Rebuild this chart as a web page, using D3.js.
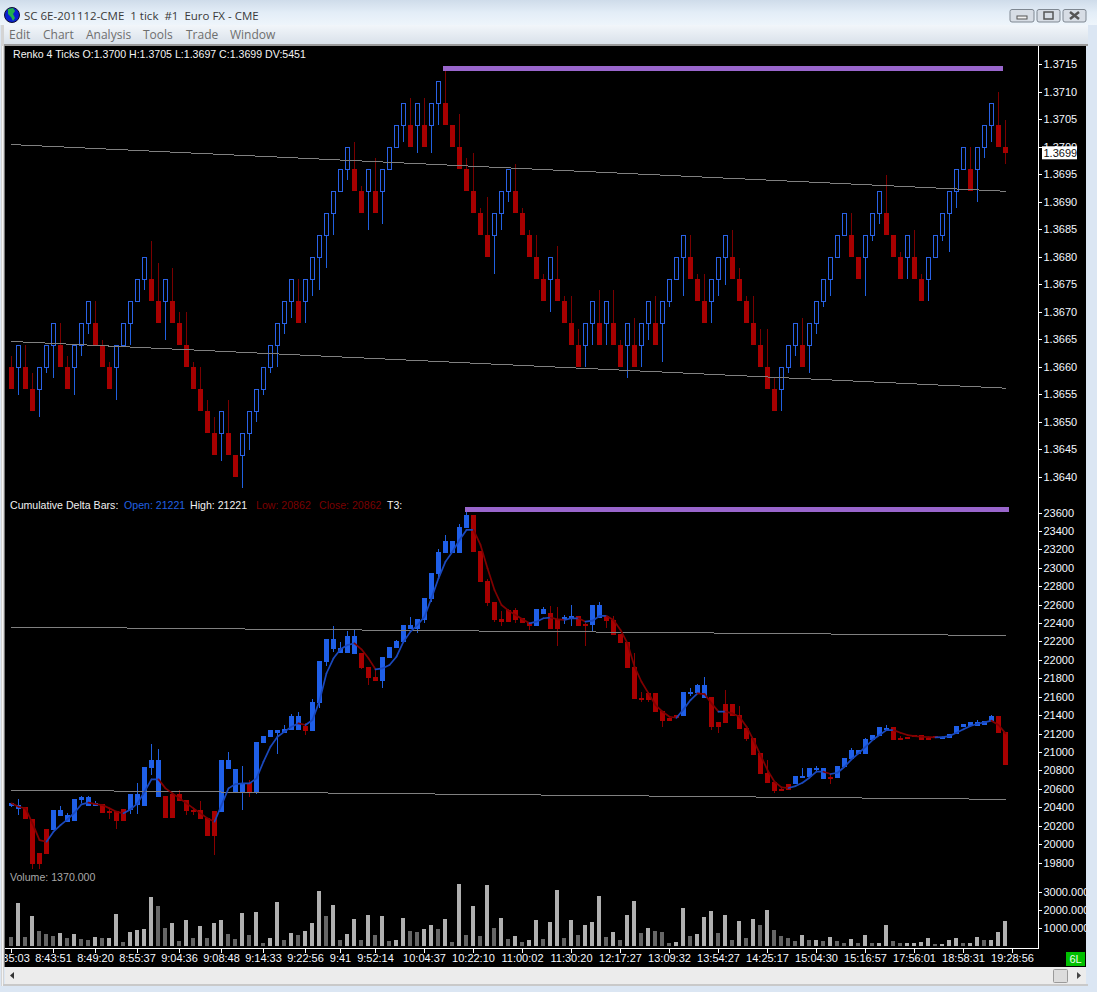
<!DOCTYPE html>
<html>
<head>
<meta charset="utf-8">
<title>SC 6E-201112-CME</title>
<script src="https://cdn.jsdelivr.net/npm/d3@7"></script>
<style>
html, body { margin: 0; padding: 0; background: #dbe6f3; overflow: hidden; }
svg { display: block; }
text { white-space: pre; }
.axis text { font-family: "Liberation Sans", Arial, sans-serif; font-size: 11px; fill: #f4f8ff; }
.axis line { stroke: #ffffff; shape-rendering: crispEdges; }
</style>
</head>
<body>
<div id="chart"></div>
<script>
// Renko bars, price panel
var renkoOpen = [
1.3660,1.3660,1.3660,1.3656,1.3656,1.3660,1.3664,1.3664,1.3660,1.3660,
1.3664,1.3668,1.3668,1.3664,1.3660,1.3660,1.3664,1.3668,1.3672,1.3676,
1.3676,1.3672,1.3672,1.3672,1.3668,1.3664,1.3660,1.3656,1.3652,1.3648,
1.3648,1.3648,1.3644,1.3644,1.3648,1.3652,1.3656,1.3660,1.3664,1.3668,
1.3672,1.3672,1.3672,1.3676,1.3680,1.3684,1.3688,1.3692,1.3696,1.3696,
1.3692,1.3692,1.3692,1.3692,1.3696,1.3700,1.3704,1.3704,1.3704,1.3704,
1.3704,1.3708,1.3708,1.3704,1.3700,1.3696,1.3692,1.3688,1.3684,1.3684,
1.3688,1.3692,1.3692,1.3688,1.3684,1.3680,1.3676,1.3676,1.3676,1.3672,
1.3668,1.3664,1.3664,1.3668,1.3668,1.3668,1.3668,1.3664,1.3664,1.3664,
1.3664,1.3668,1.3668,1.3668,1.3672,1.3676,1.3680,1.3680,1.3676,1.3672,
1.3672,1.3676,1.3680,1.3680,1.3676,1.3672,1.3668,1.3664,1.3660,1.3656,
1.3656,1.3660,1.3664,1.3664,1.3664,1.3668,1.3672,1.3676,1.3680,1.3684,
1.3684,1.3680,1.3680,1.3684,1.3688,1.3688,1.3684,1.3680,1.3680,1.3680,
1.3676,1.3676,1.3680,1.3684,1.3688,1.3692,1.3696,1.3696,1.3696,1.3700,
1.3704,1.3704,1.3700];
var renkoClose = [
1.3656,1.3664,1.3656,1.3652,1.3660,1.3664,1.3668,1.3660,1.3656,1.3664,
1.3668,1.3672,1.3664,1.3660,1.3656,1.3664,1.3668,1.3672,1.3676,1.3680,
1.3672,1.3668,1.3676,1.3668,1.3664,1.3660,1.3656,1.3652,1.3648,1.3644,
1.3652,1.3644,1.3640,1.3648,1.3652,1.3656,1.3660,1.3664,1.3668,1.3672,
1.3676,1.3668,1.3676,1.3680,1.3684,1.3688,1.3692,1.3696,1.3700,1.3692,
1.3688,1.3696,1.3688,1.3696,1.3700,1.3704,1.3708,1.3700,1.3708,1.3700,
1.3708,1.3712,1.3704,1.3700,1.3696,1.3692,1.3688,1.3684,1.3680,1.3688,
1.3692,1.3696,1.3688,1.3684,1.3680,1.3676,1.3672,1.3680,1.3672,1.3668,
1.3664,1.3660,1.3668,1.3672,1.3664,1.3672,1.3664,1.3660,1.3668,1.3660,
1.3668,1.3672,1.3664,1.3672,1.3676,1.3680,1.3684,1.3676,1.3672,1.3668,
1.3676,1.3680,1.3684,1.3676,1.3672,1.3668,1.3664,1.3660,1.3656,1.3652,
1.3660,1.3664,1.3668,1.3660,1.3668,1.3672,1.3676,1.3680,1.3684,1.3688,
1.3680,1.3676,1.3684,1.3688,1.3692,1.3684,1.3680,1.3676,1.3684,1.3676,
1.3672,1.3680,1.3684,1.3688,1.3692,1.3696,1.3700,1.3692,1.3700,1.3704,
1.3708,1.3700,1.3699];
var renkoHigh = [
1.3662,1.3664,1.3664,1.3659,1.3660,1.3664,1.3668,1.3668,1.3662,1.3664,
1.3668,1.3672,1.3672,1.3665,1.3661,1.3664,1.3668,1.3672,1.3676,1.3680,
1.3683,1.3679,1.3676,1.3678,1.3670,1.3670,1.3661,1.3660,1.3654,1.3651,
1.3652,1.3654,1.3644,1.3648,1.3652,1.3656,1.3660,1.3664,1.3668,1.3672,
1.3676,1.3676,1.3676,1.3680,1.3684,1.3688,1.3692,1.3696,1.3700,1.3701,
1.3693,1.3696,1.3698,1.3696,1.3700,1.3704,1.3708,1.3709,1.3708,1.3709,
1.3708,1.3712,1.3714,1.3704,1.3706,1.3698,1.3699,1.3689,1.3691,1.3688,
1.3692,1.3696,1.3697,1.3689,1.3685,1.3684,1.3677,1.3680,1.3682,1.3673,
1.3673,1.3667,1.3668,1.3672,1.3674,1.3672,1.3674,1.3665,1.3668,1.3669,
1.3668,1.3672,1.3673,1.3672,1.3676,1.3680,1.3684,1.3684,1.3677,1.3677,
1.3676,1.3680,1.3684,1.3685,1.3678,1.3673,1.3673,1.3667,1.3667,1.3658,
1.3660,1.3664,1.3668,1.3669,1.3668,1.3672,1.3676,1.3680,1.3684,1.3688,
1.3688,1.3680,1.3684,1.3688,1.3692,1.3695,1.3684,1.3681,1.3684,1.3685,
1.3677,1.3680,1.3684,1.3688,1.3692,1.3696,1.3700,1.3700,1.3700,1.3704,
1.3708,1.3710,1.3705];
var renkoLow = [
1.3656,1.3655,1.3656,1.3652,1.3651,1.3659,1.3658,1.3660,1.3656,1.3655,
1.3662,1.3666,1.3664,1.3660,1.3656,1.3654,1.3664,1.3664,1.3672,1.3674,
1.3672,1.3668,1.3665,1.3668,1.3664,1.3660,1.3656,1.3652,1.3648,1.3644,
1.3643,1.3644,1.3640,1.3638,1.3645,1.3650,1.3655,1.3659,1.3660,1.3666,
1.3669,1.3668,1.3668,1.3673,1.3674,1.3678,1.3684,1.3692,1.3694,1.3692,
1.3688,1.3685,1.3688,1.3686,1.3696,1.3700,1.3701,1.3700,1.3699,1.3700,
1.3699,1.3704,1.3704,1.3700,1.3696,1.3692,1.3688,1.3684,1.3680,1.3677,
1.3685,1.3690,1.3688,1.3684,1.3680,1.3676,1.3672,1.3670,1.3672,1.3668,
1.3664,1.3660,1.3660,1.3664,1.3664,1.3664,1.3664,1.3660,1.3658,1.3660,
1.3660,1.3665,1.3664,1.3661,1.3671,1.3676,1.3673,1.3676,1.3672,1.3668,
1.3668,1.3673,1.3675,1.3676,1.3672,1.3668,1.3664,1.3660,1.3656,1.3652,
1.3652,1.3659,1.3662,1.3660,1.3659,1.3666,1.3671,1.3673,1.3680,1.3684,
1.3680,1.3676,1.3673,1.3683,1.3686,1.3684,1.3680,1.3676,1.3676,1.3676,
1.3672,1.3672,1.3680,1.3683,1.3681,1.3689,1.3696,1.3692,1.3690,1.3698,
1.3701,1.3700,1.3697];

// Cumulative delta bars
var deltaOpen = [
20419,20382,20404,20274,19905,20165,20158,20310,20245,20259,
20480,20415,20419,20437,20368,20368,20386,20375,20426,20422,
20835,20516,20527,20549,20549,20480,20379,20375,20292,20368,
20357,20820,20571,20571,20668,20571,21106,21164,21208,21211,
21244,21244,21287,21236,21541,21986,22124,22080,22080,22069,
22080,21928,21820,21776,22026,22135,22200,22341,22341,22439,
22667,22938,23166,23166,23166,23437,23579,23188,22862,22634,
22449,22547,22547,22460,22406,22373,22504,22515,22449,22439,
22460,22482,22395,22384,22460,22482,22439,22287,22200,21928,
21595,21645,21645,21450,21374,21403,21399,21640,21642,21594,
21602,21330,21522,21522,21406,21265,21157,20990,20777,20679,
20599,20661,20657,20730,20733,20817,20711,20737,20722,20842,
20929,20983,20983,21135,21178,21258,21276,21157,21168,21189,
21186,21160,21178,21160,21160,21200,21276,21287,21290,21301,
21341,21395,21221];
var deltaHigh = [
20455,20491,20404,20274,19905,20165,20372,20415,20339,20491,
20525,20527,20476,20437,20382,20368,20386,20549,20668,20838,
21092,21037,20527,20549,20592,20480,20393,20469,20292,20368,
20918,21005,20820,20853,20701,21113,21179,21244,21244,21298,
21417,21439,21323,21577,21993,22232,22373,22200,22323,22337,
22080,21928,21896,22037,22145,22222,22384,22471,22449,22677,
22949,23206,23361,23296,23481,23618,23579,23188,22884,22634,
22536,22558,22569,22460,22420,22558,22576,22591,22583,22489,
22601,22482,22410,22601,22630,22482,22482,22287,22200,22077,
21657,21660,21645,21450,21374,21403,21656,21699,21743,21819,
21602,21330,21678,21522,21504,21265,21157,20990,20918,20679,
20625,20661,20744,20831,20831,20849,20831,20755,20849,20939,
21044,21026,21157,21186,21276,21298,21276,21178,21168,21189,
21186,21160,21178,21173,21204,21287,21309,21330,21352,21345,
21406,21395,21221];
var deltaLow = [
20410,20324,20274,19738,19738,19901,20158,20310,20245,20259,
20447,20415,20419,20343,20281,20169,20256,20332,20332,20422,
20752,20516,20288,20288,20476,20321,20321,20277,20093,19887,
20357,20820,20571,20375,20520,20550,21106,21164,20983,21211,
21244,21244,21189,21236,21480,21943,22088,22080,22080,22069,
21903,21733,21776,21704,22026,22135,22185,22341,22294,22402,
22634,22891,23166,23166,23166,23437,23177,22851,22591,22417,
22373,22417,22406,22406,22330,22373,22504,22341,22160,22395,
22373,22373,22160,22308,22460,22352,22276,22189,21917,21581,
21548,21551,21443,21280,21345,21370,21399,21616,21642,21594,
21243,21211,21319,21395,21254,21124,20972,20766,20668,20559,
20581,20592,20657,20730,20733,20798,20711,20657,20722,20842,
20929,20983,20983,21135,21178,21233,21135,21142,21153,21164,
21135,21135,21153,21160,21160,21200,21276,21287,21290,21301,
21341,21211,20862];
var deltaClose = [
20448,20426,20274,19789,19789,19901,20372,20375,20317,20491,
20513,20513,20448,20343,20350,20256,20256,20549,20549,20838,
20918,20918,20288,20288,20476,20361,20357,20277,20093,20093,
20918,20918,20820,20668,20571,21113,21179,21244,21244,21255,
21396,21396,21233,21548,21993,22232,22232,22135,22265,22265,
21917,21809,21776,22037,22145,22211,22384,22384,22449,22677,
22949,23177,23296,23296,23448,23579,23177,22851,22623,22439,
22417,22417,22442,22406,22373,22558,22558,22341,22341,22468,
22482,22373,22373,22601,22601,22428,22276,22189,21917,21581,
21570,21569,21443,21345,21345,21370,21656,21660,21732,21732,
21276,21276,21319,21395,21254,21146,20972,20766,20668,20581,
20581,20592,20744,20740,20831,20827,20831,20726,20849,20939,
21026,21026,21146,21186,21276,21265,21135,21142,21153,21164,
21135,21135,21153,21173,21204,21287,21309,21330,21327,21345,
21395,21211,20862];

// T3 average over the delta bars
var t3Values = [
20448,20411,20393,20230,20049,20031,20140,20212,20274,20346,
20437,20455,20440,20429,20393,20357,20339,20382,20448,20574,
20708,20708,20610,20556,20502,20448,20393,20339,20285,20248,
20429,20610,20657,20665,20665,20719,20900,21063,21171,21226,
21280,21316,21298,21352,21560,21860,22022,22120,22167,22185,
22120,22022,21903,21914,21950,22040,22203,22312,22384,22475,
22674,22891,23072,23180,23307,23416,23416,23253,23000,22764,
22601,22540,22493,22446,22402,22420,22457,22464,22446,22439,
22457,22457,22420,22431,22482,22482,22439,22330,22185,21932,
21768,21642,21515,21443,21388,21377,21468,21569,21642,21634,
21533,21443,21443,21424,21388,21280,21135,20972,20809,20682,
20621,20614,20635,20672,20726,20791,20791,20766,20780,20845,
20925,20990,21062,21135,21189,21243,21243,21214,21189,21178,
21171,21167,21164,21167,21178,21214,21251,21287,21312,21327,
21345,21298,21207];

// Volume
var volumeValues = [
500,2389,500,1667,833,667,556,722,444,667,
389,333,500,444,444,1778,222,778,889,944,
2722,2222,1000,1278,278,1444,444,1111,444,1278,
1444,667,389,1833,611,1889,167,444,2444,333,
722,611,833,1278,3056,1667,2278,333,667,1500,
333,1722,611,1667,278,333,1556,833,778,944,
1167,944,1500,222,3444,611,2222,556,3389,1000,
1556,389,556,222,333,1444,389,1333,3111,444,
1444,611,1167,1333,2778,500,778,333,1722,2500,
722,1000,833,778,167,222,2111,556,667,1611,
1944,722,1722,333,1389,444,1500,1167,2000,889,
556,444,278,611,333,333,278,500,278,167,
389,167,611,167,167,1167,278,167,167,167,
222,444,111,111,333,444,167,167,500,333,
333,778,1370];

// Axis labels
var priceTicks = [1.3640,1.3645,1.3650,1.3655,1.3660,1.3665,1.3670,1.3675,1.3680,1.3685,1.3690,1.3695,1.3700,1.3705,1.3710,1.3715];
var deltaTicks = [19800,20000,20200,20400,20600,20800,21000,21200,21400,21600,21800,22000,22200,22400,22600,22800,23000,23200,23400,23600];
var volumeTicks = [1000,2000,3000];
var timeIndex = [0,6,12,18,24,30,36,42,47,52,59,66,73,80,87,94,101,108,115,122,129,136,143];
var timeLabels = ["8:35:03","8:43:51","8:49:20","8:55:37","9:04:36","9:08:48","9:14:33","9:22:56","9:41","9:52:14","10:04:37","10:22:10","11:00:02","11:30:20","12:17:27","13:09:32","13:54:27","14:25:17","15:04:30","15:16:57","17:56:01","18:58:31","19:28:56"];

// Drawn lines: [bar index, value]
var priceChannelTop = [[0,1.37005],[142.1,1.36920]];
var priceChannelBottom = [[0,1.36647],[142.1,1.36562]];
var deltaChannelTop = [[0,22362],[142.1,22270]];
var deltaChannelBottom = [[0,20592],[142.1,20491]];
var priceHighLine = [[61.6,1.37143],[141.6,1.37143]];
var deltaHighLine = [[64.8,23636],[142.5,23636]];

var lastPrice = 1.3699;

var width = 1097, height = 992;
var panel = {left: 5, right: 1086, top: 46, bottom: 967, axisX: 1038.5, axisY: 948.5};
var blue = "#1f5fe8", red = "#a80000";

var svg = d3.select("#chart").append("svg")
    .attr("width", width)
    .attr("height", height);

var x = d3.scaleLinear().domain([0, 143]).range([11.5, 1012.5]);
var yPrice = d3.scaleLinear().domain([1.3640, 1.3715]).range([477.3, 64.8]);
var yDelta = d3.scaleLinear().domain([19800, 23600]).range([863, 513]);
var yVolume = d3.scaleLinear().domain([0, 3000]).range([946, 892]);

drawWindow();

var defs = svg.append("defs");
defs.append("clipPath").attr("id", "panel-clip").append("rect")
    .attr("x", panel.left).attr("y", panel.top)
    .attr("width", panel.right - panel.left).attr("height", panel.bottom - panel.top);

var chart = svg.append("g").attr("clip-path", "url(#panel-clip)");

drawRenko(chart.append("g"));
drawDelta(chart.append("g"));
drawVolume(chart.append("g"));
drawAxes(chart.append("g"));
drawHeaders(chart.append("g"));

// Title bar, menu, scroll bar
function drawWindow() {
    var g = svg.append("g");
    var d = svg.append("defs");

    var title = d.append("linearGradient").attr("id", "title-grad").attr("x2", 0).attr("y2", 1);
    title.append("stop").attr("offset", 0).attr("stop-color", "#cfdcea");
    title.append("stop").attr("offset", 0.5).attr("stop-color", "#e3edf7");
    title.append("stop").attr("offset", 1).attr("stop-color", "#eef5fb");

    var menu = d.append("linearGradient").attr("id", "menu-grad").attr("x2", 0).attr("y2", 1);
    menu.append("stop").attr("offset", 0).attr("stop-color", "#f2f6fa");
    menu.append("stop").attr("offset", 1).attr("stop-color", "#d9e1ea");

    g.append("rect").attr("width", width).attr("height", height).attr("fill", "#dbe6f3");
    g.append("rect").attr("width", width).attr("height", 25).attr("fill", "url(#title-grad)");
    g.append("rect").attr("x", 2).attr("y", 25).attr("width", 1086).attr("height", 19).attr("fill", "url(#menu-grad)");
    g.append("rect").attr("x", 2).attr("y", 44).attr("width", 1086).attr("height", 2).attr("fill", "#9a9a9a");
    g.append("rect").attr("x", 1).attr("y", 25).attr("width", 3).attr("height", 961).attr("fill", "#d4d4d4");
    g.append("rect").attr("x", 2).attr("y", 46).attr("width", 1).attr("height", 940).attr("fill", "#f4f4f4");
    g.append("rect").attr("x", 4).attr("y", 46).attr("width", 1).attr("height", 921).attr("fill", "#777777");

    // black chart area
    g.append("rect").attr("x", panel.left).attr("y", panel.top)
        .attr("width", panel.right - panel.left).attr("height", panel.bottom - panel.top)
        .attr("fill", "#000");

    // globe icon
    g.append("circle").attr("cx", 12).attr("cy", 15).attr("r", 7.5).attr("fill", "#0a1fd0").attr("stroke", "#101030");
    g.append("path").attr("d", "M8 9 L13 8 L15 11 L13 14 L15 18 L13 21 L11 17 L8 14 Z").attr("fill", "#22b14c");

    g.append("text").attr("x", 24).attr("y", 20)
        .attr("font-family", "'Open Sans', sans-serif").attr("font-size", 11.5).attr("fill", "#3a3a3a")
        .text("SC 6E-201112-CME  1 tick  #1  Euro FX - CME");

    var menus = [["Edit", 9], ["Chart", 43], ["Analysis", 86], ["Tools", 143], ["Trade", 186], ["Window", 230]];
    g.selectAll("text.menu").data(menus).enter().append("text")
        .attr("class", "menu")
        .attr("x", function(m) { return m[1]; })
        .attr("y", 39)
        .attr("font-family", "'Open Sans', sans-serif").attr("font-size", 12).attr("fill", "#6e6e6e")
        .text(function(m) { return m[0]; });

    // window buttons
    var buttons = [[1010, 24], [1037, 23], [1063, 23]];
    g.selectAll("rect.btn").data(buttons).enter().append("rect")
        .attr("class", "btn")
        .attr("x", function(b) { return b[0]; }).attr("y", 9.5)
        .attr("width", function(b) { return b[1]; }).attr("height", 12.5)
        .attr("rx", 2)
        .attr("fill", "#d7dde5").attr("stroke", "#7e8791");
    g.append("rect").attr("x", 1017).attr("y", 16).attr("width", 10).attr("height", 3).attr("fill", "#f0f0f0").attr("stroke", "#555");
    g.append("rect").attr("x", 1044).attr("y", 12).attr("width", 9).attr("height", 7).attr("fill", "none").attr("stroke", "#555").attr("stroke-width", 1.5);
    g.append("path").attr("d", "M1070 12 L1079 19 M1079 12 L1070 19").attr("stroke", "#555").attr("stroke-width", 2.5);

    // scroll bar
    g.append("rect").attr("x", panel.left).attr("y", panel.bottom).attr("width", panel.right - panel.left).attr("height", 17).attr("fill", "#ececec");
    g.append("rect").attr("x", 3).attr("y", 984).attr("width", 1085).attr("height", 2).attr("fill", "#c9c9c9");
    g.append("path").attr("d", "M14 972 L10 975.5 L14 979 Z").attr("fill", "#333");
    g.append("path").attr("d", "M1077 972 L1081 975.5 L1077 979 Z").attr("fill", "#444");
    g.append("rect").attr("x", 1053.5).attr("y", 969.5).attr("width", 14).attr("height", 13).attr("rx", 1)
        .attr("fill", "#dcdcdc").attr("stroke", "#9a9a9a");
}

function drawCandles(g, n, open, close, high, low, y, opts) {
    var idx = d3.range(n);
    var isUp = function(i) { return close[i] > open[i]; };

    // wicks, top and bottom parts so hollow bodies stay empty
    g.selectAll("line.top").data(idx).enter().append("line")
        .attr("class", "top")
        .attr("x1", function(i) { return x(i); })
        .attr("x2", function(i) { return x(i); })
        .attr("y1", function(i) { return y(high[i]); })
        .attr("y2", function(i) { return y(Math.max(open[i], close[i])); })
        .attr("stroke", function(i) { return isUp(i) ? opts.upWick : opts.downWick; })
        .attr("shape-rendering", "crispEdges");
    g.selectAll("line.bottom").data(idx).enter().append("line")
        .attr("class", "bottom")
        .attr("x1", function(i) { return x(i); })
        .attr("x2", function(i) { return x(i); })
        .attr("y1", function(i) { return y(Math.min(open[i], close[i])); })
        .attr("y2", function(i) { return y(low[i]); })
        .attr("stroke", function(i) { return isUp(i) ? opts.upWick : opts.downWick; })
        .attr("shape-rendering", "crispEdges");

    g.selectAll("rect.body").data(idx).enter().append("rect")
        .attr("class", "body")
        .attr("x", function(i) { return x(i) - (isUp(i) && opts.hollow ? 2 : 2.5); })
        .attr("width", function(i) { return isUp(i) && opts.hollow ? 4 : 5; })
        .attr("y", function(i) { return y(Math.max(open[i], close[i])); })
        .attr("height", function(i) { return Math.max(2, Math.abs(y(open[i]) - y(close[i]))); })
        .attr("fill", function(i) { return isUp(i) ? (opts.hollow ? "none" : blue) : red; })
        .attr("stroke", function(i) { return isUp(i) && opts.hollow ? "#2a62e6" : "none"; })
        .attr("shape-rendering", "crispEdges");
}

function drawTrend(g, points, y) {
    g.append("path")
        .datum(points)
        .attr("fill", "none")
        .attr("stroke", "#808080")
        .attr("stroke-width", 1)
        .attr("shape-rendering", "crispEdges")
        .attr("d", d3.line()
            .x(function(p) { return x(p[0]); })
            .y(function(p) { return y(p[1]); }));
}

function drawHighLine(g, points, y) {
    g.append("path")
        .datum(points)
        .attr("fill", "none")
        .attr("stroke", "#9966cc")
        .attr("stroke-width", 5)
        .attr("shape-rendering", "crispEdges")
        .attr("d", d3.line()
            .x(function(p) { return x(p[0]); })
            .y(function(p) { return y(p[1]); }));
}

function drawRenko(g) {
    drawCandles(g, renkoOpen.length, renkoOpen, renkoClose, renkoHigh, renkoLow, yPrice,
        {hollow: true, upWick: "#2060e0", downWick: "#7a0000"});
    drawTrend(g, priceChannelTop, yPrice);
    drawTrend(g, priceChannelBottom, yPrice);
    drawHighLine(g, priceHighLine, yPrice);
}

function drawDelta(g) {
    drawCandles(g, deltaOpen.length, deltaOpen, deltaClose, deltaHigh, deltaLow, yDelta,
        {hollow: false, upWick: "#2060e0", downWick: "#8a0000"});
    drawTrend(g, deltaChannelTop, yDelta);
    drawTrend(g, deltaChannelBottom, yDelta);
    drawHighLine(g, deltaHighLine, yDelta);

    // T3 line, blue while rising, dark red while falling
    var line = d3.line()
        .x(function(i) { return x(i); })
        .y(function(i) { return yDelta(t3Values[i]); });
    g.selectAll("path.t3").data(d3.range(t3Values.length - 1)).enter().append("path")
        .attr("class", "t3")
        .attr("fill", "none")
        .attr("stroke-width", 1.7)
        .attr("stroke-linecap", "round")
        .attr("stroke", function(i) { return t3Values[i + 1] >= t3Values[i] ? "#1a48bc" : "#800000"; })
        .attr("d", function(i) { return line([i, i + 1]); });
}

function drawVolume(g) {
    g.selectAll("rect.vol").data(d3.range(volumeValues.length)).enter().append("rect")
        .attr("class", "vol")
        .attr("x", function(i) { return x(i) - 2.5; })
        .attr("width", 4)
        .attr("y", function(i) { return yVolume(volumeValues[i]); })
        .attr("height", function(i) { return yVolume(0) - yVolume(volumeValues[i]); })
        .attr("fill", function(i) { return i === 0 || volumeValues[i] < volumeValues[i - 1] ? "#666666" : "#b0b0b0"; })
        .attr("shape-rendering", "crispEdges");
}

function drawAxes(g) {
    g.append("line").attr("x1", panel.axisX).attr("x2", panel.axisX)
        .attr("y1", panel.top).attr("y2", panel.axisY + 0.5)
        .attr("stroke", "#fff").attr("shape-rendering", "crispEdges");
    g.append("line").attr("x1", panel.left).attr("x2", panel.axisX)
        .attr("y1", panel.axisY).attr("y2", panel.axisY)
        .attr("stroke", "#fff").attr("shape-rendering", "crispEdges");

    var right = function(scale, ticks, fmt) {
        g.append("g").attr("class", "axis")
            .attr("transform", "translate(" + panel.axisX + ",0)")
            .call(d3.axisRight(scale).tickValues(ticks).tickFormat(fmt).tickSize(3).tickPadding(2).offset(0))
            .call(function(a) { a.select(".domain").remove(); });
    };
    right(yPrice, priceTicks, function(d) { return d.toFixed(4); });
    right(yDelta, deltaTicks, function(d) { return d; });
    right(yVolume, volumeTicks, function(d) { return d.toFixed(3); });

    g.append("g").attr("class", "axis")
        .attr("transform", "translate(0," + panel.axisY + ")")
        .call(d3.axisBottom(x).tickValues(timeIndex)
            .tickFormat(function(d, i) { return timeLabels[i]; })
            .tickSize(4).tickPadding(2).offset(0))
        .call(function(a) { a.select(".domain").remove(); });

    // last price marker
    g.append("rect").attr("x", 1042).attr("y", yPrice(lastPrice) - 6.5)
        .attr("width", 35).attr("height", 13).attr("fill", "#fff");
    g.append("text").attr("x", 1043.5).attr("y", yPrice(lastPrice) + 4)
        .attr("font-family", "'Liberation Sans', Arial, sans-serif").attr("font-size", 11).attr("fill", "#111")
        .text(lastPrice.toFixed(4));

    // symbol box
    g.append("rect").attr("x", 1066).attr("y", 952).attr("width", 19).attr("height", 14).attr("fill", "#00c000");
    g.append("text").attr("x", 1075.5).attr("y", 963).attr("text-anchor", "middle")
        .attr("font-family", "'Liberation Sans', Arial, sans-serif").attr("font-size", 11).attr("fill", "#e8ffe8")
        .text("6L");
}

function drawHeaders(g) {
    var font = "'Liberation Sans', Arial, sans-serif";
    g.append("text").attr("x", 13).attr("y", 58)
        .attr("font-family", font).attr("font-size", 10.6).attr("fill", "#f4f4f4")
        .text("Renko 4 Ticks O:1.3700 H:1.3705 L:1.3697 C:1.3699 DV:5451");

    var parts = [
        ["Cumulative Delta Bars:", 10, "#f0f0f0"],
        ["Open: 21221", 124, "#2060e0"],
        ["High: 21221", 190, "#f0f0f0"],
        ["Low: 20862", 256, "#7a0000"],
        ["Close: 20862", 319, "#7a0000"],
        ["T3:", 387, "#f0f0f0"]
    ];
    g.selectAll("text.delta-head").data(parts).enter().append("text")
        .attr("class", "delta-head")
        .attr("x", function(p) { return p[1]; })
        .attr("y", 509)
        .attr("font-family", font).attr("font-size", 10.6)
        .attr("fill", function(p) { return p[2]; })
        .text(function(p) { return p[0]; });

    g.append("text").attr("x", 10).attr("y", 881)
        .attr("font-family", font).attr("font-size", 10.6).attr("fill", "#a8a8a8")
        .text("Volume: 1370.000");
}
</script>
</body>
</html>
